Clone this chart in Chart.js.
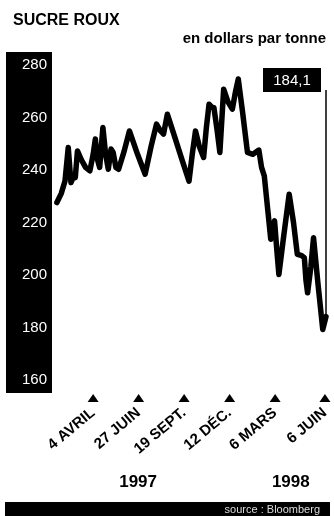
<!DOCTYPE html>
<html lang="fr">
<head>
<meta charset="utf-8">
<script src="https://cdn.jsdelivr.net/npm/chart.js@4/dist/chart.umd.min.js"></script>
<style>
  html, body { margin: 0; padding: 0; background: #fff; }
  #wrap { width: 334px; height: 516px; position: relative; }
</style>
</head>
<body>
<div id="wrap"><canvas id="sucre"></canvas></div>
<script>
// ── Données (jours depuis le 4 avril 1997 / dollars par tonne) ──
const DAYS = [-67, -59, -52, -46, -41, -37, -33, -29, -22, -14, -6, 0, 4, 8, 12, 18, 23, 28, 33, 37,
    42, 47, 57, 67, 82, 96, 107, 117, 124, 130, 137, 150, 164, 177, 183, 189, 196, 204, 209, 214,
    219, 223, 229, 234, 241, 249, 257, 263, 268, 276, 285, 295, 306, 311, 316, 328, 331, 335, 339, 343,
    352, 362, 370, 377, 384, 390, 393, 396, 402, 407, 415, 424, 430];
const PRIX = [227.6, 231, 235.8, 248.6, 235.2, 237, 237.1, 247.3, 244, 241, 239.7, 246, 251.8, 244, 241, 256.2, 246, 240.3, 248, 246.7,
    241, 240.3, 247, 254.9, 246, 238.4, 249, 257.5, 255, 253.7, 261.3, 253, 244, 235.8, 246, 254.9, 249, 244.8, 256, 265.1,
    264, 263.8, 255, 246.7, 270.8, 266, 263.2, 270, 274.7, 262, 246.7, 246, 247.6, 241, 237.8, 213.6, 218, 220.6, 210, 200.2,
    215, 230.8, 220, 207.9, 207.5, 206.6, 198, 193.2, 203, 214.2, 197, 179.2, 184.1];

const TICK_DAYS = [0, 84, 168, 252, 336, 428];
const TICK_LABELS = ['4 AVRIL', '27 JUIN', '19 SEPT.', '12 DÉC.', '6 MARS', '6 JUIN'];
const YEAR_DAYS = [83, 365];
const YEAR_LABELS = ['1997', '1998'];
const Y_TICKS = [160, 180, 200, 220, 240, 260, 280];

const TITRE = 'SUCRE ROUX';
const UNITE = 'en dollars par tonne';
const SOURCE = 'source : Bloomberg';
const DERNIER = '184,1';

const FONT = "'Liberation Sans', Arial, sans-serif";

/** ── Décor : bandeau noir, titres, triangles, source, valeur ── */
const decor = {
    id: 'decor',
    beforeDraw(chart) {
        const { ctx, chartArea, scales } = chart;
        const y = scales.y;
        ctx.save();
        ctx.fillStyle = '#000';
        ctx.fillRect(y.left, chartArea.top, y.right - y.left, chartArea.bottom - chartArea.top);
        ctx.restore();
    },
    afterDraw(chart) {
        const { ctx, chartArea, scales } = chart;
        ctx.save();
        ctx.fillStyle = '#000';
        ctx.textBaseline = 'alphabetic';

        ctx.font = `bold 16px ${FONT}`;
        ctx.textAlign = 'left';
        ctx.fillText(TITRE, 13, 25);

        ctx.font = `bold 15px ${FONT}`;
        ctx.textAlign = 'right';
        ctx.fillText(UNITE, 326, 43);

        // triangles sous l'axe
        scales.x.ticks.forEach(t => {
            const px = scales.x.getPixelForValue(t.value);
            ctx.beginPath();
            ctx.moveTo(px, chartArea.bottom + 1);
            ctx.lineTo(px - 5.5, chartArea.bottom + 9);
            ctx.lineTo(px + 5.5, chartArea.bottom + 9);
            ctx.closePath();
            ctx.fill();
        });

        // bandeau source
        ctx.fillRect(5, 502, 325, 14);
        ctx.fillStyle = '#ddd';
        ctx.font = `11px ${FONT}`;
        ctx.textAlign = 'right';
        ctx.fillText(SOURCE, 320, 513);

        // dernière valeur
        const pts = chart.getDatasetMeta(0).data;
        const last = pts[pts.length - 1];
        const boxRight = last.x - 5;
        const boxTop = chartArea.top + 16;
        ctx.fillStyle = '#000';
        ctx.fillRect(boxRight - 58, boxTop, 58, 24);
        ctx.fillStyle = '#fff';
        ctx.font = `15px ${FONT}`;
        ctx.textAlign = 'center';
        ctx.textBaseline = 'middle';
        ctx.fillText(DERNIER, boxRight - 29, boxTop + 13);

        ctx.strokeStyle = '#000';
        ctx.lineWidth = 1.5;
        ctx.beginPath();
        ctx.moveTo(last.x, boxTop + 22);
        ctx.lineTo(last.x, last.y);
        ctx.stroke();
        ctx.restore();
    },
};

const noSidePadding = s => { s.paddingLeft = 0; s.paddingRight = 0; };

new Chart(document.getElementById('sucre'), {
    type: 'line',
    data: {
        datasets: [{
            data: DAYS.map((d, i) => ({ x: d, y: PRIX[i] })),
            borderColor: '#000',
            borderWidth: 5.5,
            borderJoinStyle: 'round',
            borderCapStyle: 'round',
            pointRadius: 0,
            tension: 0,
            clip: 6,
        }],
    },
    options: {
        responsive: true,
        maintainAspectRatio: false,
        animation: false,
        layout: { padding: { top: 52, left: 6, right: 8, bottom: 22 } },
        scales: {
            x: {
                type: 'linear',
                min: -76,
                max: 430,
                afterBuildTicks: s => { s.ticks = TICK_DAYS.map(v => ({ value: v })); },
                afterFit: s => { s.height = 62; noSidePadding(s); },
                grid: { display: false },
                border: { display: false },
                ticks: {
                    autoSkip: false,
                    minRotation: 40,
                    maxRotation: 40,
                    padding: 3,
                    color: '#000',
                    font: { family: FONT, size: 15, weight: 'bold' },
                    callback: v => TICK_LABELS[TICK_DAYS.indexOf(v)],
                },
            },
            x2: {
                type: 'linear',
                position: 'bottom',
                min: -76,
                max: 430,
                afterBuildTicks: s => { s.ticks = YEAR_DAYS.map(v => ({ value: v })); },
                afterFit: s => { s.height = 39; noSidePadding(s); },
                grid: { display: false },
                border: { display: false },
                ticks: {
                    autoSkip: false,
                    maxRotation: 0,
                    padding: 9,
                    color: '#000',
                    font: { family: FONT, size: 17, weight: 'bold' },
                    callback: v => YEAR_LABELS[YEAR_DAYS.indexOf(v)],
                },
            },
            y: {
                min: 155,
                max: 285,
                afterBuildTicks: s => { s.ticks = Y_TICKS.map(v => ({ value: v })); },
                afterFit: s => { s.width = 46; },
                grid: { display: false, drawTicks: false },
                border: { display: false },
                ticks: {
                    padding: 5,
                    color: '#fff',
                    font: { family: FONT, size: 15 },
                },
            },
        },
        plugins: {
            legend: { display: false },
            tooltip: { enabled: false },
        },
    },
    plugins: [decor],
});
</script>
</body>
</html>
